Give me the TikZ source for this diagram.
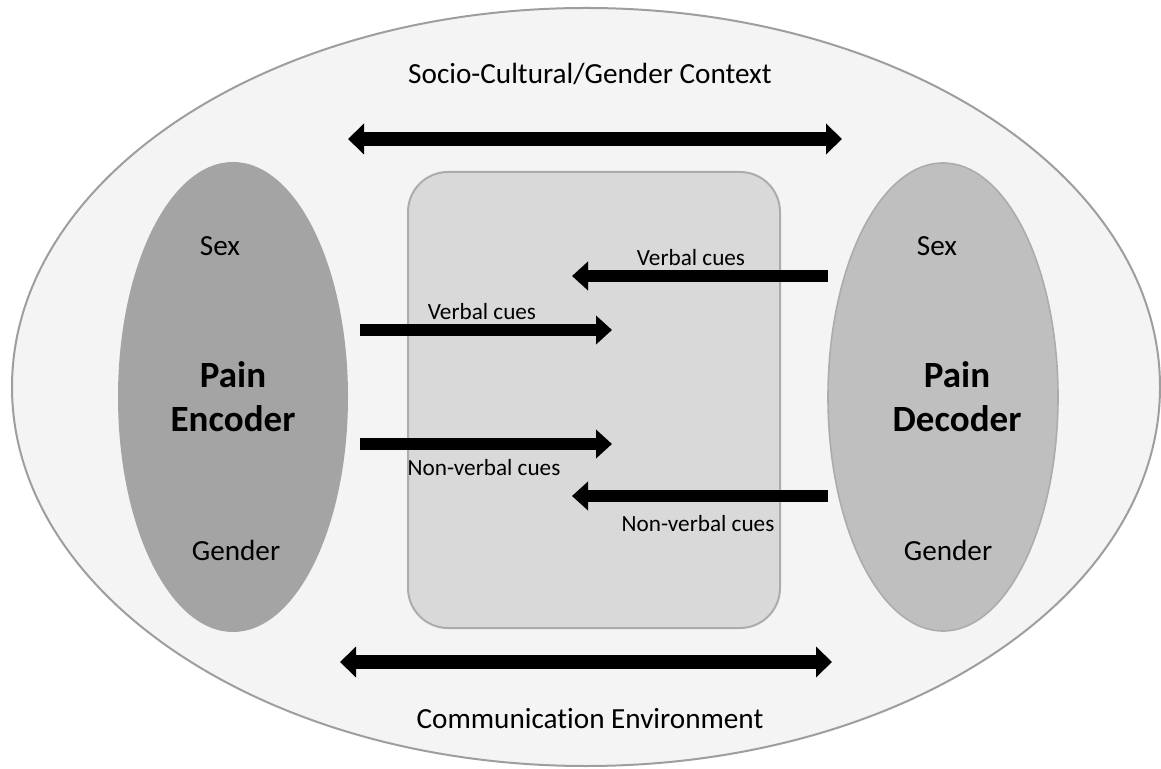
\documentclass[tikz,border=0pt]{standalone}
\usepackage{fontspec}
\setmainfont[Ligatures=NoCommon]{Carlito}
\usetikzlibrary{arrows.meta,shapes.geometric}
\definecolor{fondext}{gray}{0.955}
\definecolor{bordext}{gray}{0.62}
\definecolor{fondcentre}{gray}{0.85}
\definecolor{fondenc}{gray}{0.645}
\definecolor{fonddec}{gray}{0.75}
\tikzset{
  cue/.style={line width=6pt,-{Triangle[length=8pt,width=14pt]}},
  contexte/.style={line width=7pt,{Triangle[length=8pt,width=15pt]}-{Triangle[length=8pt,width=15pt]}},
  petit/.style={font=\fontsize{11.6}{13}\selectfont},
  moyen/.style={font=\fontsize{14.6}{17}\selectfont},
  gras/.style={font=\fontsize{18.5}{22}\selectfont\bfseries,align=center}
}
\begin{document}
\begin{tikzpicture}[x=0.5pt,y=-0.5pt,inner sep=2pt]
    % cadre
    \useasboundingbox[fill=white] (0,0) rectangle (1161,769);
    % formes
    \node[draw=bordext,line width=1pt,fill=fondext,ellipse,minimum width=1148*0.5pt,minimum height=758*0.5pt,inner sep=0pt] (ctx) at (586,387) {};
    \draw[draw=gray!65,line width=1pt,fill=fondcentre,rounded corners=20pt] (408,172) rectangle (780,628);
    \node[fill=fondenc,ellipse,minimum width=230*0.5pt,minimum height=470*0.5pt,inner sep=0pt] (enc) at (233,397) {};
    \node[draw=gray!65,line width=0.8pt,fill=fonddec,ellipse,minimum width=230*0.5pt,minimum height=468*0.5pt,inner sep=0pt] (dec) at (943,397) {};
    % textes
    \node[moyen] (titre) at (590,74) {Socio-Cultural/Gender Context};
    \node[moyen] (env) at (590,719) {Communication Environment};
    \node[moyen] (sexE) at (220,246) {Sex};
    \node[moyen] (genE) at (236,550) {Gender};
    \node[gras] (pe) at (233,397) {Pain\\Encoder};
    \node[moyen] (sexD) at (937,246) {Sex};
    \node[moyen] (genD) at (948,550) {Gender};
    \node[gras] (pd) at (957,397) {Pain\\Decoder};
    % points des flèches
    \coordinate (hG) at (348,139); \coordinate (hD) at (842,139);
    \coordinate (bG) at (340,662); \coordinate (bD) at (832,662);
    \coordinate (v1) at (828,276); \coordinate (v2) at (572,276);
    \coordinate (v3) at (360,330); \coordinate (v4) at (612,330);
    \coordinate (n1) at (360,444); \coordinate (n2) at (612,444);
    \coordinate (n3) at (828,496); \coordinate (n4) at (572,496);
    % flèches
    \draw[contexte] (hG) -- (hD);
    \draw[contexte] (bG) -- (bD);
    \draw[cue] (v1) -- (v2);
    \draw[cue] (v3) -- (v4);
    \draw[cue] (n1) -- (n2);
    \draw[cue] (n3) -- (n4);
    % étiquettes
    \node[petit] (lv1) at (691,258) {Verbal cues};
    \node[petit] (lv2) at (482,312) {Verbal cues};
    \node[petit] (ln1) at (484,468) {Non-verbal cues};
    \node[petit] (ln2) at (698,524) {Non-verbal cues};
\end{tikzpicture}
\end{document}
